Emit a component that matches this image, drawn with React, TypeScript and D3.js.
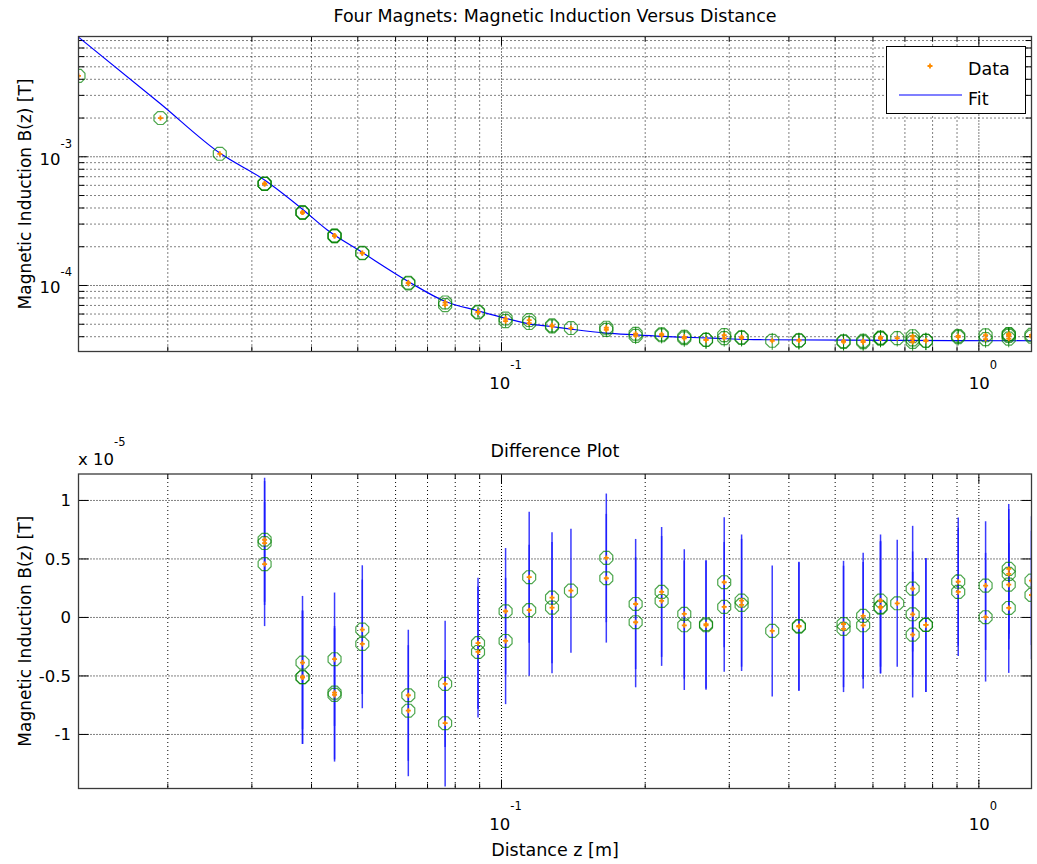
import React, { useRef, useEffect } from 'react';
import * as d3 from 'd3';

// measurement positions z [m]
const zPos = [0.0130, 0.0193, 0.0257, 0.0319, 0.0383, 0.0447, 0.0511, 0.0638, 0.0762, 0.0893,
  0.1020, 0.1143, 0.1276, 0.1398, 0.1658, 0.1910, 0.2165, 0.2415, 0.2682, 0.2928,
  0.3184, 0.3691, 0.4198, 0.5206, 0.5723, 0.6223, 0.6745, 0.7266, 0.7745, 0.9052,
  1.033, 1.155, 1.289];

// measured magnetic induction B(z) [T]
const bData = [4.25e-3, 2.0e-3, 1.055e-3, 6.17e-4, 3.69e-4, 2.43e-4, 1.785e-4, 1.044e-4, 7.21e-5, 6.21e-5,
  5.41e-5, 5.25e-5, 4.86e-5, 4.67e-5, 4.61e-5, 4.14e-5, 4.14e-5, 3.94e-5, 3.78e-5, 4.01e-5,
  3.94e-5, 3.72e-5, 3.74e-5, 3.67e-5, 3.67e-5, 3.90e-5, 3.90e-5, 3.83e-5, 3.72e-5, 4.01e-5,
  3.97e-5, 4.07e-5, 4.07e-5];

// uncertainty per position (x 1e-5 T)
const bErr = [0.55, 0.55, 0.55, 0.53, 0.57, 0.57, 0.55, 0.56, 0.54, 0.56,
  0.54, 0.56, 0.56, 0.53, 0.55, 0.556, 0.555, 0.553, 0.55, 0.555,
  0.565, 0.56, 0.55, 0.54, 0.54, 0.565, 0.542, 0.537, 0.573, 0.548,
  0.55, 0.555, 0.55];

// data minus fit (x 1e-5 T), every repeat measurement; the first three are off scale
const residuals = [[], [], [],
  [0.664, 0.636, 0.456], [-0.386, -0.511, -0.511], [-0.357, -0.643, -0.662], [-0.104, -0.226],
  [-0.665, -0.797], [-0.568, -0.904], [-0.22, -0.295], [0.053, -0.201], [0.344, 0.062],
  [0.169, 0.084], [0.229], [0.509, 0.335], [0.115, -0.041], [0.218, 0.141], [0.03, -0.067],
  [-0.058, -0.067], [0.301, 0.09], [0.144, 0.107], [-0.115], [-0.073, -0.079], [-0.056, -0.098],
  [0.013, -0.067], [0.144, 0.09, 0.084], [0.121], [0.246, 0.027, -0.147], [-0.064, -0.064],
  [0.306, 0.218], [0.272, 0.002], [0.415, 0.372, 0.28, 0.081], [0.315, 0.192]];

// fitted curve
const fitZ = [0.0130, 0.0193, 0.0257, 0.0320, 0.0384, 0.0431, 0.0511, 0.0638, 0.0763, 0.0893,
  0.1017, 0.1142, 0.1270, 0.1398, 0.1655, 0.1910, 0.2395, 0.276, 0.348, 0.537, 1.289];
const fitB = [8.5e-3, 2.58e-3, 1.068e-3, 6.54e-4, 3.88e-4, 2.71e-4, 1.805e-4, 1.074e-4, 7.51e-5, 6.36e-5,
  5.58e-5, 5.04e-5, 4.80e-5, 4.58e-5, 4.27e-5, 4.14e-5, 3.97e-5, 3.90e-5, 3.79e-5, 3.76e-5, 3.72e-5];

// axis limits and labelled ticks
const zRange = [0.0130, 1.289];
const bRange = [3.07e-5, 8.6e-3];
const diffRange = [-1.462, 1.226];
const zMajor = [0.1, 1];
const zMajorExp = ['-1', '0'];
const bMajor = [1e-4, 1e-3];
const bMajorExp = ['-4', '-3'];
const diffTicks = [-1, -0.5, 0, 0.5, 1];
const diffTickLabels = ['-1', '-0.5', '0', '0.5', '1'];

const W = 1037;
const H = 864;
const FONT = "'DejaVu Sans', sans-serif";

const isDecade = v => Math.abs(Math.log10(v) - Math.round(Math.log10(v))) < 1e-6;

const App = () => {
  const svgRef = useRef(null);

  useEffect(() => {
    if (!svgRef.current) return;
    const svg = d3.select(svgRef.current);
    svg.selectAll('*').remove();

    const L = 78.5, R = 1031.5;
    const topBox = { t: 36.5, b: 351.5 };
    const botBox = { t: 474, b: 788.5 };

    const x = d3.scaleLog().domain(zRange).range([L, R]);
    const yTop = d3.scaleLog().domain(bRange).range([topBox.b, topBox.t]);
    const yBot = d3.scaleLinear().domain(diffRange).range([botBox.b, botBox.t]);

    svg.append('rect').attr('width', W).attr('height', H).attr('fill', '#fff');

    const defs = svg.append('defs');
    [['clipTop', topBox], ['clipBot', botBox]].forEach(([id, box]) => {
      defs.append('clipPath').attr('id', id).append('rect')
        .attr('x', L).attr('y', box.t).attr('width', R - L).attr('height', box.b - box.t);
    });

    const xTicks = x.ticks();
    const octagon = d3.lineRadial().curve(d3.curveLinearClosed)(
      d3.range(8).map(k => [(k + 0.5) * Math.PI / 4, 7]));
    const plus = 'M-2.5,0H2.5M0,-2.5V2.5';

    // grid + ticks for one panel
    const drawAxes = (box, yVals, yScale, yMajorFn, yTickMajor) => {
      const g = svg.append('g');
      xTicks.forEach(v => {
        g.append('line')
          .attr('x1', x(v)).attr('x2', x(v)).attr('y1', box.t).attr('y2', box.b)
          .attr('stroke', '#000').attr('stroke-width', 1)
          .attr('stroke-dasharray', isDecade(v) ? '1,2' : '1,3');
      });
      yVals.forEach(v => {
        g.append('line')
          .attr('x1', L).attr('x2', R).attr('y1', yScale(v)).attr('y2', yScale(v))
          .attr('stroke', '#000').attr('stroke-width', 1)
          .attr('stroke-dasharray', yMajorFn(v) ? '1,2' : '1,3');
      });
      // ticks on all four sides, pointing inward
      xTicks.forEach(v => {
        const len = isDecade(v) ? 9 : 5;
        g.append('line').attr('x1', x(v)).attr('x2', x(v)).attr('y1', box.b).attr('y2', box.b - len)
          .attr('stroke', '#000');
        g.append('line').attr('x1', x(v)).attr('x2', x(v)).attr('y1', box.t).attr('y2', box.t + len)
          .attr('stroke', '#000');
      });
      yVals.forEach(v => {
        const len = yMajorFn(v) ? yTickMajor : 6;
        g.append('line').attr('x1', L).attr('x2', L + len).attr('y1', yScale(v)).attr('y2', yScale(v))
          .attr('stroke', '#000');
        g.append('line').attr('x1', R).attr('x2', R - len).attr('y1', yScale(v)).attr('y2', yScale(v))
          .attr('stroke', '#000');
      });
      return g;
    };

    const frame = box => svg.append('rect')
      .attr('x', L).attr('y', box.t).attr('width', R - L).attr('height', box.b - box.t)
      .attr('fill', 'none').attr('stroke', '#3a3a3a').attr('stroke-width', 1.3);

    // x tick labels (10^n)
    const xLabels = (baseY) => {
      zMajor.forEach((v, i) => {
        const t = svg.append('text').attr('x', x(v) + 4).attr('y', baseY)
          .attr('text-anchor', 'middle').attr('font-family', FONT).attr('font-size', 16.5);
        t.append('tspan').text('10');
        t.append('tspan').attr('dy', -20).attr('font-size', 11.5).text(zMajorExp[i]);
      });
    };

    // ---------- top panel ----------
    drawAxes(topBox, yTop.ticks(), yTop, isDecade, 9);

    const topPlot = svg.append('g').attr('clip-path', 'url(#clipTop)');
    const line = d3.line().x(d => x(d[0])).y(d => yTop(d[1])).curve(d3.curveMonotoneX);
    topPlot.append('path')
      .datum(fitZ.map((z, i) => [z, fitB[i]]))
      .attr('fill', 'none').attr('stroke', '#0000ff').attr('stroke-width', 1.2)
      .attr('d', line);

    const topPts = [];
    zPos.forEach((z, i) => {
      const r = residuals[i];
      if (!r.length) { topPts.push({ z, b: bData[i], e: bErr[i] }); return; }
      const m = d3.mean(r);
      r.forEach(v => topPts.push({ z, b: bData[i] + (v - m) * 1e-5, e: bErr[i] }));
    });

    topPlot.selectAll('.ebar').data(topPts).enter().append('line')
      .attr('x1', d => x(d.z)).attr('x2', d => x(d.z))
      .attr('y1', d => yTop(d.b + d.e * 1e-5)).attr('y2', d => yTop(d.b - d.e * 1e-5))
      .attr('stroke', '#008000').attr('stroke-width', 1).attr('opacity', 0.8);
    topPlot.selectAll('.oct').data(topPts).enter().append('path')
      .attr('d', octagon)
      .attr('transform', d => `translate(${x(d.z)},${yTop(d.b)})`)
      .attr('fill', 'none').attr('stroke', '#008000').attr('stroke-width', 1.2).attr('opacity', 0.7);
    topPlot.selectAll('.pt').data(topPts).enter().append('path')
      .attr('d', plus)
      .attr('transform', d => `translate(${x(d.z)},${yTop(d.b)})`)
      .attr('stroke', '#ff8c00').attr('stroke-width', 1.8);

    frame(topBox);

    // y tick labels (10^n)
    bMajor.forEach((v, i) => {
      const t = svg.append('text').attr('x', 72).attr('y', yTop(v) + 8)
        .attr('text-anchor', 'end').attr('font-family', FONT).attr('font-size', 16.5);
      t.append('tspan').text('10');
      t.append('tspan').attr('dy', -17).attr('font-size', 11.5).text(bMajorExp[i]);
    });
    xLabels(389);

    svg.append('text').attr('x', (L + R) / 2).attr('y', 22)
      .attr('text-anchor', 'middle').attr('font-family', FONT).attr('font-size', 17.5)
      .text('Four Magnets: Magnetic Induction Versus Distance');
    svg.append('text')
      .attr('transform', `translate(31,${(topBox.t + topBox.b) / 2}) rotate(-90)`)
      .attr('text-anchor', 'middle').attr('font-family', FONT).attr('font-size', 17)
      .text('Magnetic Induction B(z) [T]');

    // legend
    const lg = svg.append('g');
    lg.append('rect').attr('x', 886.5).attr('y', 46.5).attr('width', 139).attr('height', 67)
      .attr('fill', '#fff').attr('stroke', '#000').attr('stroke-width', 1);
    lg.append('path').attr('d', plus).attr('transform', 'translate(930,66)')
      .attr('stroke', '#ff8c00').attr('stroke-width', 1.8);
    lg.append('line').attr('x1', 899).attr('x2', 962).attr('y1', 95).attr('y2', 95)
      .attr('stroke', '#0000ff').attr('stroke-width', 1.2);
    lg.append('text').attr('x', 968).attr('y', 75).attr('font-family', FONT).attr('font-size', 17.5).text('Data');
    lg.append('text').attr('x', 968).attr('y', 105).attr('font-family', FONT).attr('font-size', 17.5).text('Fit');

    // ---------- difference panel ----------
    drawAxes(botBox, diffTicks, yBot, () => true, 10);

    const diffPts = [];
    zPos.forEach((z, i) => residuals[i].forEach(v => diffPts.push({ z, v, e: bErr[i] })));

    const botPlot = svg.append('g').attr('clip-path', 'url(#clipBot)');
    botPlot.selectAll('.ebar').data(diffPts).enter().append('line')
      .attr('x1', d => x(d.z)).attr('x2', d => x(d.z))
      .attr('y1', d => yBot(d.v + d.e)).attr('y2', d => yBot(d.v - d.e))
      .attr('stroke', '#1a1aff').attr('stroke-width', 1.5).attr('opacity', 0.85);
    botPlot.selectAll('.oct').data(diffPts).enter().append('path')
      .attr('d', octagon)
      .attr('transform', d => `translate(${x(d.z)},${yBot(d.v)})`)
      .attr('fill', 'none').attr('stroke', '#008000').attr('stroke-width', 1.2).attr('opacity', 0.7);
    botPlot.selectAll('.pt').data(diffPts).enter().append('path')
      .attr('d', plus)
      .attr('transform', d => `translate(${x(d.z)},${yBot(d.v)})`)
      .attr('stroke', '#ff8c00').attr('stroke-width', 1.8);

    frame(botBox);

    diffTicks.forEach((v, i) => {
      svg.append('text').attr('x', 71).attr('y', yBot(v) + 6)
        .attr('text-anchor', 'end').attr('font-family', FONT).attr('font-size', 16.5)
        .text(diffTickLabels[i]);
    });
    xLabels(830);

    const sc = svg.append('text').attr('x', 78).attr('y', 465)
      .attr('font-family', FONT).attr('font-size', 16.5);
    sc.append('tspan').text('x 10');
    sc.append('tspan').attr('dy', -19).attr('font-size', 11.5).text('-5');

    svg.append('text').attr('x', (L + R) / 2).attr('y', 457)
      .attr('text-anchor', 'middle').attr('font-family', FONT).attr('font-size', 17.5)
      .text('Difference Plot');
    svg.append('text')
      .attr('transform', `translate(31,${(botBox.t + botBox.b) / 2}) rotate(-90)`)
      .attr('text-anchor', 'middle').attr('font-family', FONT).attr('font-size', 17)
      .text('Magnetic Induction B(z) [T]');
    svg.append('text').attr('x', (L + R) / 2).attr('y', 856)
      .attr('text-anchor', 'middle').attr('font-family', FONT).attr('font-size', 17.5)
      .text('Distance z [m]');
  }, []);

  return (
    <svg
      ref={svgRef}
      width={W}
      height={H}
      style={{ position: 'absolute', left: 0, top: 0, display: 'block' }}
    />
  );
};

export default App;
